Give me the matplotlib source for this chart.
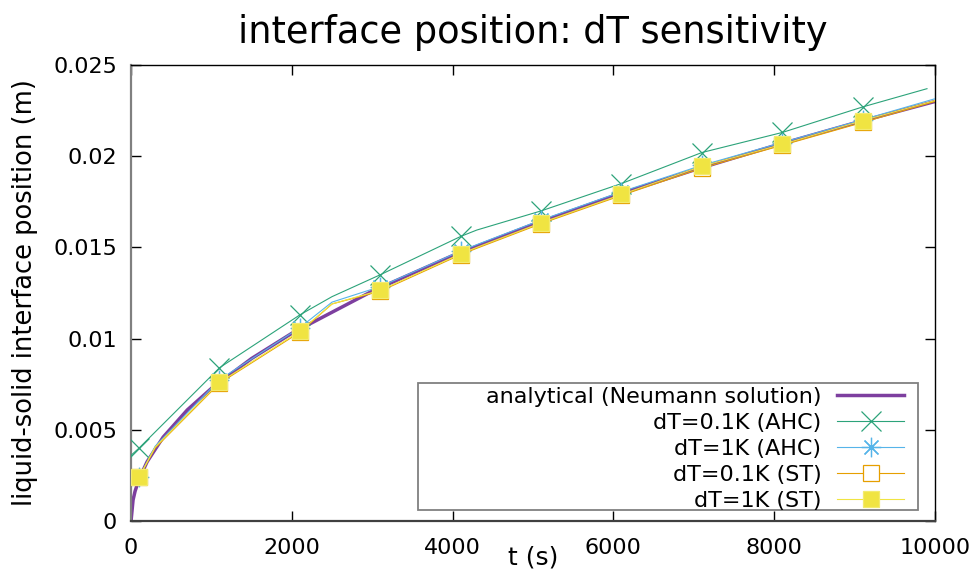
import matplotlib
matplotlib.use('Agg')
import matplotlib.pyplot as plt
from matplotlib.patches import Rectangle

# data (t in s, position in mm -> converted to m below)
t_ana = [0, 25, 50, 100, 200, 400, 700, 1000, 1500, 2000, 3000, 4000,
         5000, 6000, 7000, 8000, 9000, 10000]
y_ana = [0, 1.15, 1.63, 2.30, 3.25, 4.60, 6.09, 7.27, 8.91, 10.29, 12.60,
         14.55, 16.26, 17.82, 19.24, 20.57, 21.82, 23.00]

t_sim = [0, 100, 300, 1100, 2100, 2500, 3100, 4100, 4300, 5100, 6100,
         7100, 8100, 9100, 10000]
t_ahc01 = [0, 100, 1100, 2100, 2500, 3100, 4100, 4300, 5100, 6100, 7100,
           8100, 9100, 9900]
y_ahc01 = [3.6, 4.0, 8.4, 11.3, 12.3, 13.5, 15.6, 15.95, 17.0, 18.5, 20.2,
           21.3, 22.7, 23.7]
y_ahc1 = [2.2, 2.4, 4.1, 7.75, 10.6, 12.0, 12.85, 14.8, 15.15, 16.5, 18.05,
          19.5, 20.75, 22.0, 23.15]
y_st01 = [2.2, 2.4, 4.0, 7.55, 10.35, 11.9, 12.6, 14.6, 14.95, 16.3, 17.85,
          19.35, 20.6, 21.85, 23.0]
y_st1 = [2.2, 2.4, 4.05, 7.6, 10.4, 11.9, 12.65, 14.65, 15.0, 16.35, 17.9,
         19.45, 20.65, 21.95, 23.05]

labels = ['analytical (Neumann solution)', 'dT=0.1K (AHC)', 'dT=1K (AHC)',
          'dT=0.1K (ST)', 'dT=1K (ST)']
colors = ['#7d3f9f', '#2ca37a', '#56b4e9', '#e69f00', '#f0e442']

xticks = [0, 2000, 4000, 6000, 8000, 10000]
yticks = [0, 0.005, 0.01, 0.015, 0.02, 0.025]
ytick_labels = ['0', '0.005', '0.01', '0.015', '0.02', '0.025']


def mm(v):
    return [x / 1000 for x in v]


def marks(ts):
    # markers at 100, 1100, 2100, ...
    return [i for i, t in enumerate(ts) if t % 1000 == 100]


plt.rcParams['font.family'] = ['DejaVu Sans']
fig = plt.figure(figsize=(9.75, 5.75), dpi=100)
ax = fig.add_axes([0.1344, 0.0939, 0.8246, 0.7931])

ax.plot(t_ana, mm(y_ana), color=colors[0], lw=2.5, label=labels[0], zorder=2)
ax.plot(t_ahc01, mm(y_ahc01), color=colors[1], lw=0.8, marker='x', ms=14,
        mew=0.9, markevery=marks(t_ahc01), label=labels[1], zorder=3)
ax.plot(t_sim, mm(y_ahc1), color=colors[2], lw=0.8, marker=(8, 2, 0), ms=14,
        mew=0.9, markevery=marks(t_sim), label=labels[2], zorder=3)
ax.plot(t_sim, mm(y_st01), color=colors[3], lw=0.8, marker='s', ms=12,
        mew=0.9, mfc='white', markevery=marks(t_sim), label=labels[3], zorder=4)
ax.plot(t_sim, mm(y_st1), color=colors[4], lw=0.8, marker='s', ms=12,
        mew=0.9, mfc=colors[4], mec='#f3eb6e', markevery=marks(t_sim),
        label=labels[4], zorder=5)

ax.set_xlim(0, 10000)
ax.set_ylim(0, 0.025)
ax.set_xticks(xticks)
ax.set_yticks(yticks)
ax.set_yticklabels(ytick_labels)
ax.tick_params(direction='in', length=7, width=1, top=True, right=True,
               labelsize=16, color='black')
ax.tick_params(axis='y', pad=10)
ax.tick_params(axis='x', pad=12)
for s in ['top', 'right']:
    ax.spines[s].set_linewidth(1)
ax.spines['left'].set_color('#808080')
ax.spines['left'].set_linewidth(1.6)
ax.spines['bottom'].set_color('#404040')
ax.spines['bottom'].set_linewidth(1.6)

ax.set_xlabel('t (s)', fontsize=18, labelpad=-9)
ax.set_ylabel('liquid-solid interface position (m)', fontsize=18.5,
              labelpad=11)
ax.set_title('interface position: dT sensitivity', fontsize=26.5, pad=16)

# legend frame (gnuplot style key box)
ax.add_patch(Rectangle((0.357, 0.024), 0.622, 0.279, transform=ax.transAxes,
                       facecolor='white', edgecolor='#808080', lw=1.3,
                       zorder=6))
leg = ax.legend(loc='lower right', bbox_to_anchor=(0.9614, 0.022),
                markerfirst=False, frameon=False, fontsize=16,
                handlelength=3.0, handletextpad=0.72, labelspacing=0.27,
                borderpad=0, borderaxespad=0)
leg.set_zorder(7)

fig.savefig('out.png', dpi=100)
